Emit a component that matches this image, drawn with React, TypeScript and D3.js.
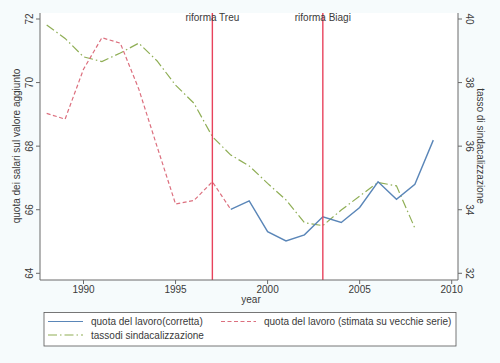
import * as d3 from "d3"

// data
const redYears = [1988, 1989, 1990, 1991, 1992, 1993, 1994, 1995, 1996, 1997, 1998]
const redValues = [69.03, 68.85, 70.42, 71.41, 71.24, 69.8, 67.98, 66.18, 66.29, 66.88, 66.01]

const blueYears = [1998, 1999, 2000, 2001, 2002, 2003, 2004, 2005, 2006, 2007, 2008, 2009]
const blueValues = [66.01, 66.28, 65.31, 65.02, 65.21, 65.78, 65.6, 66.07, 66.88, 66.33, 66.8, 68.19]

const greenYears = [
  1988, 1989, 1990, 1991, 1992, 1993, 1994, 1995, 1996, 1997, 1998, 1999, 2000, 2001, 2002, 2003, 2004, 2005,
  2006, 2007, 2008,
]
const greenValues = [
  39.81, 39.39, 38.81, 38.66, 38.93, 39.24, 38.68, 37.92, 37.35, 36.3, 35.72, 35.38, 34.83, 34.31, 33.59, 33.5,
  33.99, 34.43, 34.86, 34.75, 33.42,
]

const xTicks = [1990, 1995, 2000, 2005, 2010]
const leftTicks = [64, 66, 68, 70, 72]
const rightTicks = [32, 34, 36, 38, 40]

const reforms = [
  { year: 1997, label: "riforma Treu" },
  { year: 2003, label: "riforma Biagi" },
]

const legendItems = [
  { label: "quota del lavoro(corretta)", color: "#5a86b8", dash: "none" },
  { label: "quota del lavoro (stimata su vecchie serie)", color: "#dc6f7e", dash: "4,2.5" },
  { label: "tassodi sindacalizzazione", color: "#8fae55", dash: "9,3,1.5,3" },
]

const W = 500
const H = 363
const plot = { left: 40, right: 458, top: 13, bottom: 280 }
const font = "'Liberation Sans', Arial, sans-serif"
const axisColor = "#6b6b6b"
const textColor = "#3a3a3a"

const x = d3.scaleLinear().domain([1990, 2010]).range([83.5, 451.7])
const yLeft = d3.scaleLinear().domain([64, 72]).range([273.3, 19])
const yRight = d3.scaleLinear().domain([32, 40]).range([273.3, 19])

const seriesPath = (years: number[], values: number[], y: d3.ScaleLinear<number, number>) =>
  d3
    .line<number>()
    .x((_, i) => x(years[i]))
    .y((d) => y(d))(values) || ""

export default function App() {
  const red = seriesPath(redYears, redValues, yLeft)
  const blue = seriesPath(blueYears, blueValues, yLeft)
  const green = seriesPath(greenYears, greenValues, yRight)

  return (
    <svg
      width={W}
      height={H}
      style={{ position: "absolute", left: 0, top: 0, fontFamily: font }}
    >
      <rect width={W} height={H} fill="#f6fbfc" />
      <rect
        x={plot.left}
        y={plot.top}
        width={plot.right - plot.left}
        height={plot.bottom - plot.top}
        fill="#ffffff"
      />

      {/* series */}
      <path d={green} fill="none" stroke={legendItems[2].color} strokeWidth={1.2} strokeDasharray={legendItems[2].dash} />
      <path d={red} fill="none" stroke={legendItems[1].color} strokeWidth={1.2} strokeDasharray={legendItems[1].dash} />
      <path d={blue} fill="none" stroke={legendItems[0].color} strokeWidth={1.4} />

      {/* reform lines */}
      {reforms.map((r) => (
        <g key={r.label}>
          <line x1={x(r.year)} x2={x(r.year)} y1={plot.top} y2={plot.bottom} stroke="#e8425c" strokeWidth={1.4} />
          <text x={x(r.year)} y={21} textAnchor="middle" fontSize={10} fill={textColor}>
            {r.label}
          </text>
        </g>
      ))}

      {/* axes */}
      <g stroke={axisColor} strokeWidth={1}>
        <line x1={plot.left} x2={plot.right} y1={plot.bottom} y2={plot.bottom} />
        <line x1={plot.left} x2={plot.left} y1={plot.top} y2={plot.bottom} />
        <line x1={plot.right} x2={plot.right} y1={plot.top} y2={plot.bottom} />
        {xTicks.map((t) => (
          <line key={t} x1={x(t)} x2={x(t)} y1={plot.bottom} y2={plot.bottom + 4} />
        ))}
        {leftTicks.map((t) => (
          <line key={t} x1={plot.left - 4} x2={plot.left} y1={yLeft(t)} y2={yLeft(t)} />
        ))}
        {rightTicks.map((t) => (
          <line key={t} x1={plot.right} x2={plot.right + 4} y1={yRight(t)} y2={yRight(t)} />
        ))}
      </g>

      <g fontSize={10} fill={textColor}>
        {xTicks.map((t) => (
          <text key={t} x={x(t)} y={293} textAnchor="middle">
            {t}
          </text>
        ))}
        {leftTicks.map((t) => (
          <text key={t} transform={`translate(33,${yLeft(t)}) rotate(-90)`} textAnchor="middle">
            {t}
          </text>
        ))}
        {rightTicks.map((t) => (
          <text key={t} transform={`translate(466,${yRight(t)}) rotate(90)`} textAnchor="middle">
            {t}
          </text>
        ))}
        <text x={251} y={303} textAnchor="middle">
          year
        </text>
        <text transform="translate(20,146) rotate(-90)" textAnchor="middle">
          quota dei salari sul valore aggiunto
        </text>
        <text transform="translate(477,146) rotate(90)" textAnchor="middle">
          tasso di sindacalizzazione
        </text>
      </g>

      {/* legend */}
      <rect x={44} y={312.5} width={412} height={33.5} fill="#ffffff" stroke="#555" strokeWidth={0.8} />
      {legendItems.map((item, i) => {
        const col = i === 1 ? 1 : 0
        const row = i === 2 ? 1 : 0
        const lx = col === 0 ? 48 : 221
        const ly = row === 0 ? 321.5 : 335
        return (
          <g key={item.label}>
            <line
              x1={lx}
              x2={lx + 35}
              y1={ly}
              y2={ly}
              stroke={item.color}
              strokeWidth={1.2}
              strokeDasharray={item.dash}
            />
            <text x={lx + 43} y={ly + 3.5} fontSize={10} fill={textColor}>
              {item.label}
            </text>
          </g>
        )
      })}
    </svg>
  )
}
